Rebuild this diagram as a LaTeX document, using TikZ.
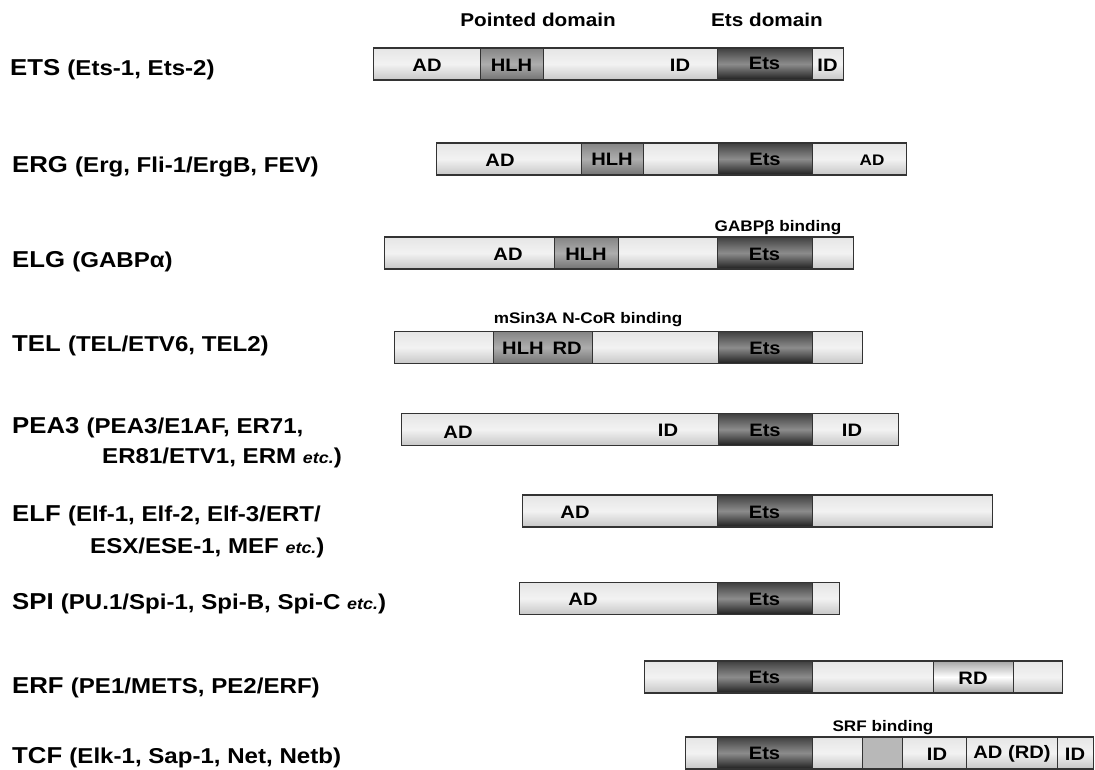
\documentclass[tikz,border=0pt]{standalone}
\usepackage{fontspec}
\setmainfont{Liberation Sans}[FakeStretch=1.12]

\newcommand{\members}[1]{{\fontsize{21.5}{24}\selectfont #1}}
\newcommand{\etcit}{{\fontsize{16}{18}\selectfont\itshape etc.}}

\begin{document}
\begin{tikzpicture}[x=1pt,y=-1pt]

      \useasboundingbox (0,0) rectangle (1095,769);

      \tikzset{
        seg/.style={draw=black!80,line width=1.3pt,minimum height=32pt,inner sep=0pt,anchor=west},
        lite/.style={seg,top color=black!10,bottom color=black!22,middle color=black!5},
        hlh/.style={seg,top color=black!48,bottom color=black!55,middle color=black!32},
        ets/.style={seg,top color=black!75,bottom color=black!88,middle color=black!45},
        rdbox/.style={seg,top color=black!35,bottom color=black!35,middle color=white},
        srf/.style={seg,fill=black!28},
        famlabel/.style={anchor=base west,inner sep=0pt,font=\fontsize{23}{26}\selectfont\bfseries},
        seglabel/.style={inner sep=0pt,font=\fontsize{18}{20}\selectfont\bfseries},
        head/.style={inner sep=0pt,font=\fontsize{18.5}{20}\selectfont\bfseries},
        note/.style={inner sep=0pt,font=\fontsize{15.3}{17}\selectfont\bfseries}
      }

      % family names
      \node[famlabel] (ets) at (10,75) {ETS \members{(Ets-1, Ets-2)}};
      \node[famlabel] (erg) at (12,172) {ERG \members{(Erg, Fli-1/ErgB, FEV)}};
      \node[famlabel] (elg) at (12,267) {ELG \members{(GABPα)}};
      \node[famlabel] (tel) at (12,351) {TEL \members{(TEL/ETV6, TEL2)}};
      \node[famlabel] (pea3) at (12,433) {PEA3 \members{(PEA3/E1AF, ER71,}};
      \node[famlabel] (pea3b) at (102,463) {\members{ER81/ETV1, ERM \etcit)}};
      \node[famlabel] (elf) at (12,521) {ELF \members{(Elf-1, Elf-2, Elf-3/ERT/}};
      \node[famlabel] (elfb) at (90,553) {\members{ESX/ESE-1, MEF \etcit)}};
      \node[famlabel] (spi) at (12,609) {SPI \members{(PU.1/Spi-1, Spi-B, Spi-C \etcit)}};
      \node[famlabel] (erf) at (12,693) {ERF \members{(PE1/METS, PE2/ERF)}};
      \node[famlabel] (tcf) at (12,763) {TCF \members{(Elk-1, Sap-1, Net, Netb)}};

      % headers
      \node[head] (pnt) at (538,20) {Pointed domain};
      \node[head] (etsdom) at (767,20) {Ets domain};

      % ETS
      \node[lite,minimum width=107] (1a) at (373,64) {};
      \node[hlh,minimum width=63] (1b) at (480,64) {};
      \node[lite,minimum width=174] (1c) at (543,64) {};
      \node[ets,minimum width=95] (1d) at (717,64) {};
      \node[lite,minimum width=31] (1e) at (812,64) {};
      \node[seglabel] (1ad) at (427,65) {AD};
      \node[seglabel] (1hlh) at (511.5,65) {HLH};
      \node[seglabel] (1id) at (680,65) {ID};
      \node[seglabel] (1ets) at (764.5,63) {Ets};
      \node[seglabel] (1id2) at (827.5,65) {ID};

      % ERG
      \node[lite,minimum width=145] (2a) at (436,159) {};
      \node[hlh,minimum width=62] (2b) at (581,159) {};
      \node[lite,minimum width=75] (2c) at (643,159) {};
      \node[ets,minimum width=94] (2d) at (718,159) {};
      \node[lite,minimum width=94] (2e) at (812,159) {};
      \node[seglabel] (2ad) at (500,160) {AD};
      \node[seglabel] (2hlh) at (612,159) {HLH};
      \node[seglabel] (2ets) at (765,159) {Ets};
      \node[note] (2ad2) at (872,160) {AD};

      % ELG
      \node[lite,minimum width=170] (3a) at (384,253) {};
      \node[hlh,minimum width=64] (3b) at (554,253) {};
      \node[lite,minimum width=99] (3c) at (618,253) {};
      \node[ets,minimum width=95] (3d) at (717,253) {};
      \node[lite,minimum width=41] (3e) at (812,253) {};
      \node[seglabel] (3ad) at (508,254) {AD};
      \node[seglabel] (3hlh) at (586,254) {HLH};
      \node[seglabel] (3ets) at (764.5,254) {Ets};
      \node[note] (3bind) at (778,228) {GABPβ binding};

      % TEL
      \node[lite,minimum width=99] (4a) at (394,347.5) {};
      \node[hlh,minimum width=99] (4b) at (493,347.5) {};
      \node[lite,minimum width=126] (4c) at (592,347.5) {};
      \node[ets,minimum width=94] (4d) at (718,347.5) {};
      \node[lite,minimum width=50] (4e) at (812,347.5) {};
      \node[seglabel] (4hlh) at (542,348) {HLH\enspace RD};
      \node[seglabel] (4ets) at (765,348) {Ets};
      \node[note] (4bind) at (588,320) {mSin3A N-CoR binding};

      % PEA3
      \node[lite,minimum width=317] (5a) at (401,429.5) {};
      \node[ets,minimum width=94] (5b) at (718,429.5) {};
      \node[lite,minimum width=86] (5c) at (812,429.5) {};
      \node[seglabel] (5ad) at (458,432) {AD};
      \node[seglabel] (5id) at (668,430) {ID};
      \node[seglabel] (5ets) at (765,430) {Ets};
      \node[seglabel] (5id2) at (852,430) {ID};

      % ELF
      \node[lite,minimum width=195] (6a) at (522,511) {};
      \node[ets,minimum width=95] (6b) at (717,511) {};
      \node[lite,minimum width=180] (6c) at (812,511) {};
      \node[seglabel] (6ad) at (575,512) {AD};
      \node[seglabel] (6ets) at (764.5,512) {Ets};

      % SPI
      \node[lite,minimum width=198] (7a) at (519,598.5) {};
      \node[ets,minimum width=95] (7b) at (717,598.5) {};
      \node[lite,minimum width=27] (7c) at (812,598.5) {};
      \node[seglabel] (7ad) at (583,599) {AD};
      \node[seglabel] (7ets) at (764.5,599) {Ets};

      % ERF
      \node[lite,minimum width=73] (8a) at (644,677) {};
      \node[ets,minimum width=95] (8b) at (717,677) {};
      \node[lite,minimum width=121] (8c) at (812,677) {};
      \node[rdbox,minimum width=80] (8d) at (933,677) {};
      \node[lite,minimum width=49] (8e) at (1013,677) {};
      \node[seglabel] (8ets) at (764.5,677) {Ets};
      \node[seglabel] (8rd) at (973,678) {RD};

      % TCF
      \node[lite,minimum width=32] (9a) at (685,753) {};
      \node[ets,minimum width=95] (9b) at (717,753) {};
      \node[lite,minimum width=50] (9c) at (812,753) {};
      \node[srf,minimum width=40] (9d) at (862,753) {};
      \node[lite,minimum width=64] (9e) at (902,753) {};
      \node[lite,minimum width=91] (9f) at (966,753) {};
      \node[lite,minimum width=36] (9g) at (1057,753) {};
      \node[seglabel] (9ets) at (764.5,753) {Ets};
      \node[seglabel] (9id) at (937,754) {ID};
      \node[seglabel] (9adrd) at (1012,754) {AD (RD)};
      \node[seglabel] (9id2) at (1075,754) {ID};
      \node[note] (9bind) at (883,728) {SRF binding};

    \end{tikzpicture}
\end{document}
